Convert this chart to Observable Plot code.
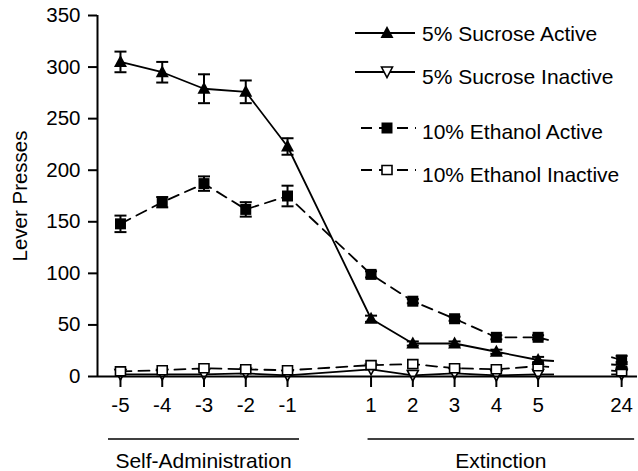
<!DOCTYPE html>
<html><head><meta charset="utf-8">
<script src="https://cdn.jsdelivr.net/npm/d3@7"></script>
<script src="https://cdn.jsdelivr.net/npm/@observablehq/plot@0.6"></script>
<style>
body{margin:0;background:#fff}
svg{font-family: Arial, "Liberation Sans", Helvetica, sans-serif}
</style>
</head><body><div id="chart"></div>
<script>
// ---- data ----
const sessions = ["-5","-4","-3","-2","-1","1","2","3","4","5","24"];
const slotOrder = ["-5","-4","-3","-2","-1","gap1","1","2","3","4","5","gap2","24"];
const sucroseActive      = [305,295,279,276,223,56,32,32,24,16,11];
const sucroseActiveErr   = [10,10,14,11,8,3,2,2,2,3,3];
const sucroseInactive    = [2,2,2,3,1,7,1,3,1,2,2];
const ethanolActive      = [148,169,187,162,175,99,73,56,38,38,16];
const ethanolActiveErr   = [8,5,7,7,10,3,2,2,2,2,4];
const ethanolInactive    = [5,6,8,7,6,11,12,8,7,10,5];
const seriesNames = ["5% Sucrose Active","5% Sucrose Inactive","10% Ethanol Active","10% Ethanol Inactive"];
const yTicks = [0,50,100,150,200,250,300,350];
const yLabel = "Lever Presses";
const groupLabels = ["Self-Administration","Extinction"];
const groupSpans = [["-5","-1"],["1","24"]];

// ---- symbols ----
const triUp = {draw(c){c.moveTo(0,-7);c.lineTo(6.5,5);c.lineTo(-6.5,5);c.closePath();}};
const triDown = {draw(c){c.moveTo(-5.5,-5);c.lineTo(5.5,-5);c.lineTo(0,5.5);c.closePath();}};
const sqFill = {draw(c){c.rect(-5.5,-5.5,11,11);}};
const sqOpen = {draw(c){c.rect(-5,-4.5,10,9);}};
const cap = {draw(c){c.moveTo(-6,0);c.lineTo(6,0);}};

const slotOf = s => slotOrder.indexOf(s);
const xDomain = [-0.55, 12.38];

const series = [
  {name: seriesNames[0], values: sucroseActive, err: sucroseActiveErr, dash: null, symbol: triUp, fill: "black", sw: 0},
  {name: seriesNames[1], values: sucroseInactive, err: null, dash: null, symbol: triDown, fill: "white", sw: 1.6},
  {name: seriesNames[2], values: ethanolActive, err: ethanolActiveErr, dash: "11,7", symbol: sqFill, fill: "black", sw: 0},
  {name: seriesNames[3], values: ethanolInactive, err: null, dash: "11,7", symbol: sqOpen, fill: "white", sw: 1.6}
];

const rowsOf = se => sessions.map((s,i) => ({series: se.name, session: s, slot: slotOf(s), value: se.values[i], err: se.err ? se.err[i] : 0}));

const brk1 = 0.19, brk2 = 0.875; // broken-axis line stubs (fractions of the 5 -> 24 span)
function stubs(se){
  const r = rowsOf(se);
  const a = r[r.length-2], b = r[r.length-1];
  const at = f => ({x: a.slot + f*(b.slot-a.slot), y: a.value + f*(b.value-a.value)});
  const p1 = at(brk1), p2 = at(brk2);
  return [{x1: a.slot, y1: a.value, x2: p1.x, y2: p1.y}, {x1: p2.x, y1: p2.y, x2: b.slot, y2: b.value}];
}

const lineMarks = [];
const drawOrder = [1,3,0,2];
for (const k of drawOrder) {
  const se = series[k];
  const main = rowsOf(se).filter(d => d.session !== "24");
  lineMarks.push(Plot.line(main, {x: "slot", y: "value", stroke: "black", strokeWidth: 1.8, strokeDasharray: se.dash}));
  lineMarks.push(Plot.link(stubs(se), {x1: "x1", y1: "y1", x2: "x2", y2: "y2", stroke: "black", strokeWidth: 1.8, strokeDasharray: se.dash}));
}
const errMarks = [];
for (const se of series.filter(s => s.err)) {
  const r = rowsOf(se);
  errMarks.push(Plot.ruleX(r, {x: "slot", y1: d => d.value - d.err, y2: d => d.value + d.err, stroke: "black", strokeWidth: 2}));
  errMarks.push(Plot.dot(r, {x: "slot", y: d => d.value + d.err, symbol: cap, stroke: "black", strokeWidth: 2}));
  errMarks.push(Plot.dot(r, {x: "slot", y: d => d.value - d.err, symbol: cap, stroke: "black", strokeWidth: 2}));
}
const dotMarks = drawOrder.map(k => {
  const se = series[k];
  return Plot.dot(rowsOf(se), {x: "slot", y: "value", symbol: se.symbol, fill: se.fill, stroke: "black", strokeWidth: se.sw});
});

const plot = Plot.plot({
  width: 638, height: 471,
  marginLeft: 97, marginRight: 1, marginTop: 15, marginBottom: 95,
  x: {domain: xDomain, axis: null},
  y: {domain: [0, 350], axis: null},
  style: {fontFamily: 'Arial, "Liberation Sans", Helvetica, sans-serif', color: "black", background: "white", overflow: "visible"},
  marks: [
    Plot.axisY({ticks: yTicks, tickSize: 9, tickPadding: 8, fontSize: 20.5, strokeWidth: 2, label: null}),
    Plot.axisX({ticks: sessions.map(slotOf), tickFormat: v => slotOrder[v], tickSize: 11, tickPadding: 10, fontSize: 20.5, strokeWidth: 2, label: null}),
    ...errMarks,
    ...lineMarks,
    ...dotMarks,
    Plot.ruleX([xDomain[0]], {stroke: "black", strokeWidth: 2}),
    Plot.ruleY([0], {stroke: "black", strokeWidth: 2.2}),
    Plot.text([yLabel], {frameAnchor: "left", dx: -77, rotate: -90, textAnchor: "middle", fontSize: 20.5, fill: "black"})
  ]
});

// group brackets under the x axis
const svg = d3.select(plot);
const xs = plot.scale("x");
const pads = [[-12, 12], [-3, 13]];
groupLabels.forEach((lab, i) => {
  const x1 = xs.apply(slotOf(groupSpans[i][0])) + pads[i][0];
  const x2 = xs.apply(slotOf(groupSpans[i][1])) + pads[i][1];
  svg.append("line").attr("x1", x1).attr("x2", x2).attr("y1", 439).attr("y2", 439).attr("stroke", "black").attr("stroke-width", 1.6);
  svg.append("text").attr("x", (x1 + x2) / 2).attr("y", 460).attr("text-anchor", "middle").attr("dominant-baseline", "central")
    .attr("font-size", 21).attr("fill", "black").text(lab);
});

// legend
const legY = [33, 72, 128, 170];
const legTextY = [33, 76.5, 131.5, 174];
const leg = svg.append("g").attr("text-anchor", "start");
series.forEach((se, i) => {
  const lx1 = se.dash ? 361 : 355, lx2 = se.dash ? 416 : 415, mx = 387;
  leg.append("line").attr("x1", lx1).attr("x2", lx2).attr("y1", legY[i]).attr("y2", legY[i])
    .attr("stroke", "black").attr("stroke-width", 1.8).attr("stroke-dasharray", se.dash);
  leg.append("path").attr("transform", `translate(${mx},${legY[i]})`)
    .attr("d", d3.symbol(se.symbol)()).attr("fill", se.fill).attr("stroke", "black").attr("stroke-width", se.sw);
  leg.append("text").attr("x", 422).attr("y", legTextY[i]).attr("dominant-baseline", "central").attr("text-anchor", "start")
    .attr("font-size", 21).attr("fill", "black").text(se.name);
});

document.getElementById("chart").appendChild(plot);
</script>
</body></html>
